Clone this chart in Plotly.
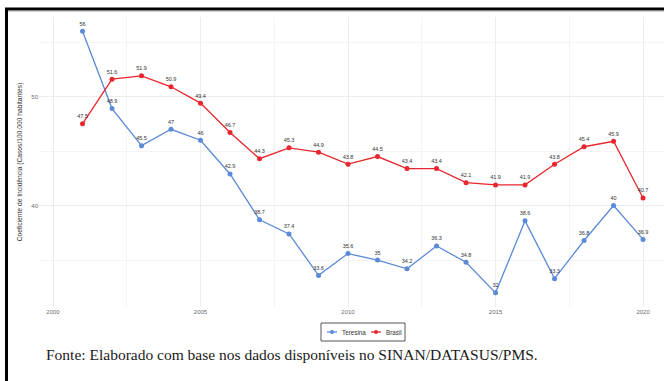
import plotly.graph_objects as go

# Annual incidence coefficients (cases per 100,000 inhabitants)
anos = list(range(2001, 2021))
teresina = [56, 48.9, 45.5, 47, 46, 42.9, 38.7, 37.4, 33.6, 35.6,
            35, 34.2, 36.3, 34.8, 32, 38.6, 33.3, 36.8, 40, 36.9]
brasil = [47.5, 51.6, 51.9, 50.9, 49.4, 46.7, 44.3, 45.3, 44.9, 43.8,
          44.5, 43.4, 43.4, 42.1, 41.9, 41.9, 43.8, 45.4, 45.9, 40.7]

serie_nomes = ["Teresina", "Brasil"]
serie_cores = ["#5b8ad8", "#e8262d"]

x_ticks = [2000, 2005, 2010, 2015, 2020]
y_ticks = [40, 50]

W, H = 664, 381
ML, MR, MT, MB = 39, 0, 17, 74
PW, PH = W - ML - MR, H - MT - MB


def px_x(p):
    return (p - ML) / PW


def px_y(p):
    return (H - MB - p) / PH


fig = go.Figure()
for nome, vals, cor in zip(serie_nomes, [teresina, brasil], serie_cores):
    fig.add_trace(go.Scatter(
        x=anos, y=vals, name=nome,
        mode="lines+markers+text",
        line=dict(color=cor, width=1.3),
        marker=dict(color=cor, size=5),
        text=[f"{v:g}" for v in vals],
        textposition="top center",
        textfont=dict(size=5.5, color="#333333", family="Liberation Sans"),
        cliponaxis=False,
        showlegend=False,
    ))

grid = "#ececec"
fig.update_xaxes(
    range=[1999.525, 2020.71],
    tickvals=x_ticks, ticktext=[str(t) for t in x_ticks],
    showgrid=True, gridcolor=grid, gridwidth=0.8,
    minor=dict(dtick=2.5, tick0=2000, showgrid=True, gridcolor="#f4f4f4", gridwidth=0.6),
    zeroline=False, showline=False, ticks="",
    tickfont=dict(size=6, color="#6a6a6a", family="Liberation Sans"),
)
fig.update_yaxes(
    range=[30.7, 57.3],
    tickvals=y_ticks, ticktext=[str(t) for t in y_ticks],
    showgrid=True, gridcolor=grid, gridwidth=0.8,
    minor=dict(dtick=5, tick0=30, showgrid=True, gridcolor="#f4f4f4", gridwidth=0.6),
    zeroline=False, showline=False, ticks="",
    tickfont=dict(size=6, color="#6a6a6a", family="Liberation Sans"),
    title=dict(text="Coeficiente de Incidência (Casos/100.000 habitantes)",
               font=dict(size=6.7, color="#333333", family="Liberation Sans"),
               standoff=7),
)

# Frame lines around the figure
shapes = [
    dict(type="line", xref="paper", yref="paper",
         x0=px_x(5), x1=px_x(664), y0=px_y(9), y1=px_y(9),
         line=dict(color="black", width=3)),
    dict(type="line", xref="paper", yref="paper",
         x0=px_x(5), x1=px_x(664), y0=px_y(11), y1=px_y(11),
         line=dict(color="#9a9a9a", width=1)),
    dict(type="line", xref="paper", yref="paper",
         x0=px_x(6.5), x1=px_x(6.5), y0=px_y(8), y1=px_y(381),
         line=dict(color="black", width=3)),
]
annotations = [
    dict(text="Fonte: Elaborado com base nos dados disponíveis no SINAN/DATASUS/PMS.",
         xref="paper", yref="paper", x=px_x(44), y=px_y(355),
         xanchor="left", yanchor="middle", showarrow=False,
         font=dict(size=15.5, color="#1a1a1a", family="Liberation Serif")),
]

# Compact legend box below the plot
shapes.append(dict(type="rect", xref="paper", yref="paper",
                   x0=px_x(321), x1=px_x(405), y0=px_y(323), y1=px_y(341),
                   line=dict(color="#555555", width=1), fillcolor="white"))
leg_y = 332
leg_x = [332, 376]
for nome, cor, lx in zip(serie_nomes, serie_cores, leg_x):
    shapes.append(dict(type="line", xref="paper", yref="paper",
                       x0=px_x(lx - 5), x1=px_x(lx + 5), y0=px_y(leg_y), y1=px_y(leg_y),
                       line=dict(color=cor, width=1.3)))
    shapes.append(dict(type="circle", xref="paper", yref="paper",
                       x0=px_x(lx - 2), x1=px_x(lx + 2), y0=px_y(leg_y - 2), y1=px_y(leg_y + 2),
                       line=dict(color=cor, width=0), fillcolor=cor))
    annotations.append(dict(text=nome, xref="paper", yref="paper",
                            x=px_x(lx + 8), y=px_y(leg_y), xanchor="left", yanchor="middle",
                            showarrow=False,
                            font=dict(size=6.3, color="#333333", family="Liberation Sans")))

fig.update_layout(
    width=W, height=H,
    margin=dict(l=ML, r=MR, t=MT, b=MB),
    paper_bgcolor="white", plot_bgcolor="white",
    showlegend=False,
    shapes=shapes,
    annotations=annotations,
)

fig.write_html("out.html")
